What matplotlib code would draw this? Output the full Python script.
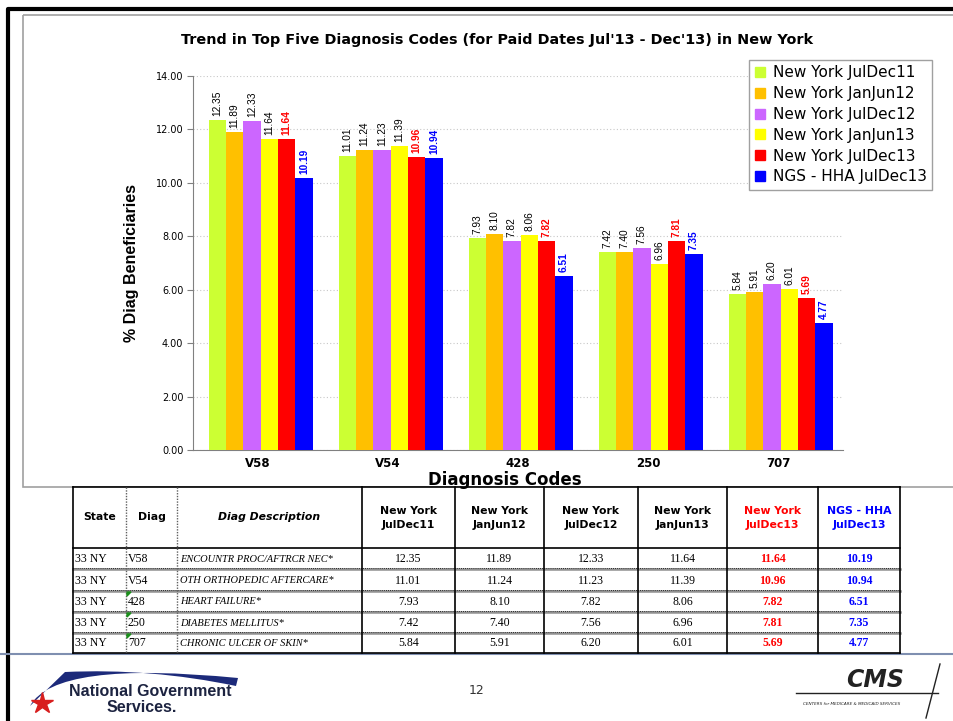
import numpy as np
import matplotlib
matplotlib.use("Agg")
import matplotlib.pyplot as plt
from matplotlib.lines import Line2D
from matplotlib.patches import Rectangle, PathPatch
from matplotlib.path import Path

# --- данные ---------------------------------------------------------------
codes = ["V58", "V54", "428", "250", "707"]
descriptions = [
    "ENCOUNTR PROC/AFTRCR NEC*",
    "OTH ORTHOPEDIC AFTERCARE*",
    "HEART FAILURE*",
    "DIABETES MELLITUS*",
    "CHRONIC ULCER OF SKIN*",
]
series_names = [
    "New York JulDec11",
    "New York JanJun12",
    "New York JulDec12",
    "New York JanJun13",
    "New York JulDec13",
    "NGS - HHA JulDec13",
]
jul_dec11 = [12.35, 11.01, 7.93, 7.42, 5.84]
jan_jun12 = [11.89, 11.24, 8.10, 7.40, 5.91]
jul_dec12 = [12.33, 11.23, 7.82, 7.56, 6.20]
jan_jun13 = [11.64, 11.39, 8.06, 6.96, 6.01]
jul_dec13 = [11.64, 10.96, 7.82, 7.81, 5.69]
ngs_jul_dec13 = [10.19, 10.94, 6.51, 7.35, 4.77]
series = [jul_dec11, jan_jun12, jul_dec12, jan_jun13, jul_dec13, ngs_jul_dec13]

colors = ["#CCFF33", "#FFC000", "#CC66FF", "#FFFF00", "#FF0000", "#0000FF"]
label_colors = ["black", "black", "black", "black", "#FF0000", "#0000FF"]
label_weights = ["normal"] * 4 + ["bold", "bold"]

W, H = 954, 721
ARIAL = ["Liberation Sans", "DejaVu Sans"]

fig = plt.figure(figsize=(W / 100, H / 100), dpi=100)

# оверлей в пикселях для рамок, таблицы и подвала
ov = fig.add_axes([0, 0, 1, 1], zorder=0)
ov.set_xlim(0, W)
ov.set_ylim(H, 0)
ov.axis("off")

# рамки слайда и диаграммы
ov.plot([8.5, 8.5, W], [H, 8.5, 8.5], color="black", lw=3, solid_capstyle="butt")
ov.add_patch(Rectangle((23, 15), W, 472, fill=False, ec="#a0a0a0", lw=1.2))

# --- диаграмма -------------------------------------------------------------
ax = fig.add_axes([193 / W, 1 - 450 / H, 650 / W, 374 / H], zorder=2)
ax.patch.set_alpha(0)
x = np.arange(len(codes))
bw = 1 / 7.5
for i, (vals, c) in enumerate(zip(series, colors)):
    pos = x + (i - 2.5) * bw + 0.02
    ax.bar(pos, vals, width=bw, color=c, edgecolor="none", zorder=3)
    for p, v in zip(pos, vals):
        ax.text(p, v + 0.15, f"{v:.2f}", rotation=90, ha="center", va="bottom",
                fontsize=7.3, family=ARIAL, color=label_colors[i],
                fontweight=label_weights[i])

ax.set_xlim(-0.5, 4.5)
ax.set_ylim(0, 14)
ax.set_yticks(np.arange(0, 15, 2))
ax.set_yticklabels([f"{t:.2f}" for t in np.arange(0, 15, 2)], fontsize=7)
ax.set_xticks(x)
ax.set_xticklabels(codes, fontsize=8.5, fontweight="bold")
ax.tick_params(axis="x", length=0, pad=5)
ax.tick_params(axis="y", length=4, color="#808080", pad=3)
ax.grid(axis="y", linestyle=(0, (1, 2)), color="#c8c8c8", lw=0.8, zorder=0)
for side in ("top", "right"):
    ax.spines[side].set_visible(False)
for side in ("left", "bottom"):
    ax.spines[side].set_color("#808080")

ax.set_ylabel("% Diag Beneficiaries", fontsize=11.5, fontweight="bold",
              family=ARIAL, labelpad=12)
fig.text(505 / W, 1 - 480 / H, "Diagnosis Codes", ha="center", va="center",
         fontsize=12, fontweight="bold")
fig.text(497 / W, 1 - 40 / H,
         "Trend in Top Five Diagnosis Codes (for Paid Dates Jul'13 - Dec'13) in New York",
         ha="center", va="center", fontsize=10.4, fontweight="bold")

handles = [Line2D([], [], marker="s", ls="none", color=c, markersize=7) for c in colors]
leg = fig.legend(handles, series_names, loc="upper left",
                 bbox_to_anchor=(749 / W, 1 - 60 / H), borderaxespad=0,
                 fontsize=11, handlelength=0.8, handletextpad=0.4,
                 labelspacing=0.38, fancybox=False, framealpha=1,
                 edgecolor="#a0a0a0", borderpad=0.35)
leg.get_frame().set_linewidth(1.0)

# --- таблица ---------------------------------------------------------------
cols = [73, 126, 177, 362, 455, 544, 638, 727, 818, 900]
rows = [487, 548, 569, 591, 612, 633, 653]

ov.add_patch(Rectangle((cols[0], rows[0]), cols[-1] - cols[0], rows[-1] - rows[0],
                       facecolor="white", edgecolor="none", zorder=1))
# горизонтальные линии
ov.plot([cols[0], cols[-1]], [rows[0], rows[0]], color="black", lw=1.2, zorder=3)
ov.plot([cols[0], cols[-1]], [rows[1], rows[1]], color="black", lw=1.2, zorder=3)
for yy in rows[2:-1]:
    ov.plot([cols[0], cols[-1]], [yy, yy], color="#909090", lw=1.8, zorder=3)
    ov.plot([cols[0], cols[-1]], [yy - 1, yy - 1], color="black", lw=0.6,
            ls=(0, (1, 1.5)), zorder=3)
ov.plot([0, W], [rows[-1] + 1, rows[-1] + 1], color="#7f8fb0", lw=1.5, zorder=3)
ov.plot([cols[0], cols[-1]], [rows[-1], rows[-1]], color="black", lw=1.2, zorder=3)
# вертикальные линии
for j, xx in enumerate(cols):
    if j in (1, 2):
        ov.plot([xx, xx], [rows[0], rows[-1]], color="#606060", lw=1.0,
                ls=(0, (1, 1)), zorder=3)
    else:
        ov.plot([xx, xx], [rows[0], rows[-1]], color="black", lw=1.2, zorder=3)

header = ["State", "Diag", "Diag Description"] + [n.replace("York ", "York\n").replace("HHA ", "HHA\n")
                                                 for n in series_names]
head_colors = ["black"] * 7 + ["#FF0000", "#0000FF"]
hy = (rows[0] + rows[1]) / 2
for j, txt in enumerate(header):
    xc = (cols[j] + cols[j + 1]) / 2
    ov.text(xc, hy, txt, ha="center", va="center", fontsize=7.8, fontweight="bold",
            color=head_colors[j], style="italic" if j == 2 else "normal",
            linespacing=1.5, zorder=4)

for r in range(len(codes)):
    yc = (rows[r + 1] + rows[r + 2]) / 2 + 0.5
    ov.text(cols[0] + 2, yc, "33 NY", ha="left", va="center", fontsize=8.5,
            family="Liberation Serif", zorder=4)
    ov.text(cols[1] + 2, yc, codes[r], ha="left", va="center", fontsize=8.5,
            family="Liberation Serif", zorder=4)
    ov.text(cols[2] + 3, yc, descriptions[r], ha="left", va="center", fontsize=7.5,
            family="Liberation Serif", style="italic", zorder=4)
    for k, vals in enumerate(series):
        xc = (cols[k + 3] + cols[k + 4]) / 2
        ov.text(xc, yc, f"{vals[r]:.2f}", ha="center", va="center", fontsize=8.5,
                family="Liberation Serif", color=label_colors[k],
                fontweight=label_weights[k], zorder=4)
    if codes[r].isdigit():
        ov.add_patch(plt.Polygon([[cols[1] + 1, rows[r + 1] + 1],
                                  [cols[1] + 5, rows[r + 1] + 1],
                                  [cols[1] + 1, rows[r + 1] + 5]],
                                 color="#1a8f1a", zorder=5))

# --- подвал ---------------------------------------------------------------
ov.text(477, 690, "12", ha="center", va="center", fontsize=9, color="#333333")

# логотип NGS
swoosh = Path([(30, 706), (55, 660), (238, 678), (236, 686), (150, 668), (65, 672), (30, 706)],
              [Path.MOVETO, Path.CURVE3, Path.CURVE3, Path.LINETO, Path.CURVE3, Path.CURVE3,
               Path.CLOSEPOLY])
ov.add_patch(PathPatch(swoosh, facecolor="#1c2a7a", edgecolor="none", zorder=4))
ov.plot([42], [703], marker="*", markersize=16, color="#d81e1e", zorder=5)
ov.text(150, 691, "National Government", ha="center", va="center", fontsize=11.5,
        fontweight="bold", color="#1c2340", family=ARIAL, zorder=5)
ov.text(142, 707, "Services.", ha="center", va="center", fontsize=11.5,
        fontweight="bold", color="#1c2340", family=ARIAL, zorder=5)

# логотип CMS
ov.text(875, 680, "CMS", ha="center", va="center", fontsize=17, fontweight="bold",
        style="italic", color="#222222", zorder=5)
ov.plot([796, 938], [693, 693], color="#222222", lw=1.0, zorder=5)
ov.plot([940, 926], [664, 718], color="#222222", lw=1.0, zorder=5)
ov.text(852, 704, "CENTERS for MEDICARE & MEDICAID SERVICES", ha="center", va="center",
        fontsize=3, color="#222222", style="italic", zorder=5)

fig.savefig("out.png", dpi=100)
